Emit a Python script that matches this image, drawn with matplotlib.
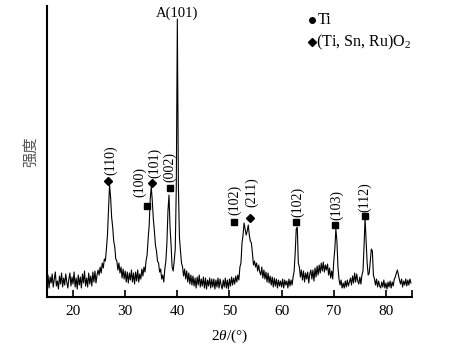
import numpy as np
import matplotlib
matplotlib.use("Agg")
import matplotlib.pyplot as plt

plt.rcParams['font.family'] = ['Liberation Serif', 'Noto Sans CJK SC']
plt.rcParams['mathtext.fontset'] = 'custom'
plt.rcParams['mathtext.rm'] = 'Liberation Serif'
plt.rcParams['mathtext.it'] = 'Liberation Serif:italic'

# 2theta grid: 15.0 .. 84.8 step 0.2
two_theta = np.round(np.arange(15.0, 85.0, 0.2), 1)

# intensity (arbitrary units), one row per degree (x.0, x.2, x.4, x.6, x.8)
intensity = [
    12, 22, 9, 20, 14,    # 15
    23, 10, 18, 25, 11,   # 16
    16, 8, 21, 13, 24,    # 17
    10, 19, 12, 23, 15,   # 18
    9, 18, 24, 11, 20,    # 19
    13, 25, 10, 19, 8,    # 20
    22, 12, 20, 9, 23,    # 21
    14, 26, 11, 19, 10,   # 22
    24, 13, 21, 11, 25,   # 23
    15, 26, 14, 22, 27,   # 24
    22, 30, 24, 34, 29,   # 25
    38, 36, 48, 62, 88,   # 26
    112, 100, 80, 70, 56, # 27
    50, 38, 36, 27, 34,   # 28
    24, 30, 19, 28, 18,   # 29
    26, 15, 25, 14, 24,   # 30
    17, 27, 15, 24, 13,   # 31
    25, 16, 27, 15, 23,   # 32
    18, 28, 21, 30, 25,   # 33
    36, 42, 58, 72, 98,   # 34
    110, 96, 78, 66, 52,  # 35
    46, 36, 34, 25, 28,   # 36
    18, 22, 15, 28, 36,   # 37
    54, 86, 102, 70, 52,  # 38
    30, 26, 36, 48, 110,  # 39
    278, 112, 60, 46, 34, # 40
    30, 21, 28, 18, 26,   # 41
    15, 24, 13, 22, 12,   # 42
    21, 11, 19, 9, 20,    # 43
    12, 22, 10, 18, 11,   # 44
    20, 9, 19, 8, 17,     # 45
    11, 19, 9, 18, 10,    # 46
    18, 8, 17, 10, 19,    # 47
    9, 18, 12, 8, 17,     # 48
    10, 19, 9, 17, 8,     # 49
    18, 11, 20, 12, 19,   # 50
    13, 21, 15, 22, 17,   # 51
    30, 34, 54, 62, 74,   # 52
    68, 62, 66, 72, 62,   # 53
    56, 54, 44, 32, 36,   # 54
    30, 34, 26, 32, 25,   # 55
    22, 30, 19, 27, 18,   # 56
    25, 15, 24, 14, 21,   # 57
    12, 20, 10, 19, 11,   # 58
    18, 9, 17, 11, 16,    # 59
    10, 18, 9, 17, 12,    # 60
    16, 9, 18, 11, 17,    # 61
    12, 20, 26, 44, 68,   # 62
    70, 34, 30, 20, 27,   # 63
    17, 26, 15, 24, 18,   # 64
    25, 14, 23, 27, 18,   # 65
    27, 16, 29, 20, 31,   # 66
    22, 32, 24, 34, 26,   # 67
    35, 25, 32, 27, 33,   # 68
    22, 29, 19, 26, 18,   # 69
    36, 48, 68, 56, 30,   # 70
    18, 12, 17, 9, 14,    # 71
    9, 16, 10, 17, 11,    # 72
    15, 19, 12, 21, 14,   # 73
    24, 15, 23, 16, 13,   # 74
    20, 13, 22, 26, 50,   # 75
    79, 56, 34, 22, 24,   # 76
    36, 48, 46, 22, 18,   # 77
    12, 18, 10, 16, 11,   # 78
    9, 15, 10, 17, 9,     # 79
    14, 8, 15, 10, 16,    # 80
    9, 15, 11, 18, 20,    # 81
    24, 27, 22, 17, 13,   # 82
    18, 10, 16, 12, 18,   # 83
    11, 17, 12, 18, 14,   # 84
]

# Ti peak markers
ti_x = [34.2, 38.6, 50.9, 62.7, 70.2, 75.9]
ti_y = [91, 109, 75, 75, 72, 81]
# (Ti, Sn, Ru)O2 peak markers
ox_x = [26.75, 35.1, 53.95]
ox_y = [116, 114, 79]

# peak labels (x, bottom y, text)
lab_x = [27.2, 32.8, 35.7, 38.6, 51.0, 54.2, 63.1, 70.5, 75.9]
lab_y = [122, 100, 119, 115, 82, 90, 80, 77, 85]
lab_t = ['(110)', '(100)', '(101)', '(002)', '(102)', '(211)', '(102)', '(103)', '(112)']

fig = plt.figure(figsize=(4.56, 3.57), dpi=100)
ax = fig.add_axes([0.103, 0.168, 0.8005, 0.815])

ax.plot(two_theta, intensity, color='black', lw=0.8)
ax.plot(ti_x, ti_y, 's', color='black', ms=4)
ax.plot(ox_x, ox_y, 'D', color='black', ms=4.5)

for x, y, t in zip(lab_x, lab_y, lab_t):
    ax.text(x, y, t, rotation=90, ha='center', va='bottom', fontsize=10)

ax.text(40.0, 277, 'A(101)', ha='center', va='bottom', fontsize=10.5)

# legend
ax.plot([65.8], [277], 'o', color='black', ms=4, clip_on=False)
ax.text(66.9, 277, 'Ti', ha='left', va='center', fontsize=11.5)
ax.plot([65.9], [255], 'D', color='black', ms=4.5, clip_on=False)
ax.text(66.6, 255, '(Ti, Sn, Ru)O$_2$', ha='left', va='center', fontsize=11.5)

ax.set_xlim(15, 85)
ax.set_ylim(0, 291)
ax.set_xticks([20, 30, 40, 50, 60, 70, 80])
ax.set_xticks([85], minor=True)
ax.tick_params(axis='x', which='both', direction='in', length=5, width=1.2, labelsize=11, pad=6)
ax.set_yticks([])
for s in ['top', 'right']:
    ax.spines[s].set_visible(False)
for s in ['left', 'bottom']:
    ax.spines[s].set_linewidth(1.5)

ax.set_xlabel('2$\\mathit{\\theta}$/(°)', fontsize=11, labelpad=7)
ax.set_ylabel('强度', fontsize=11, family=['Noto Sans CJK SC'], color='#555555', labelpad=6)

fig.savefig('out.png', dpi=100)
